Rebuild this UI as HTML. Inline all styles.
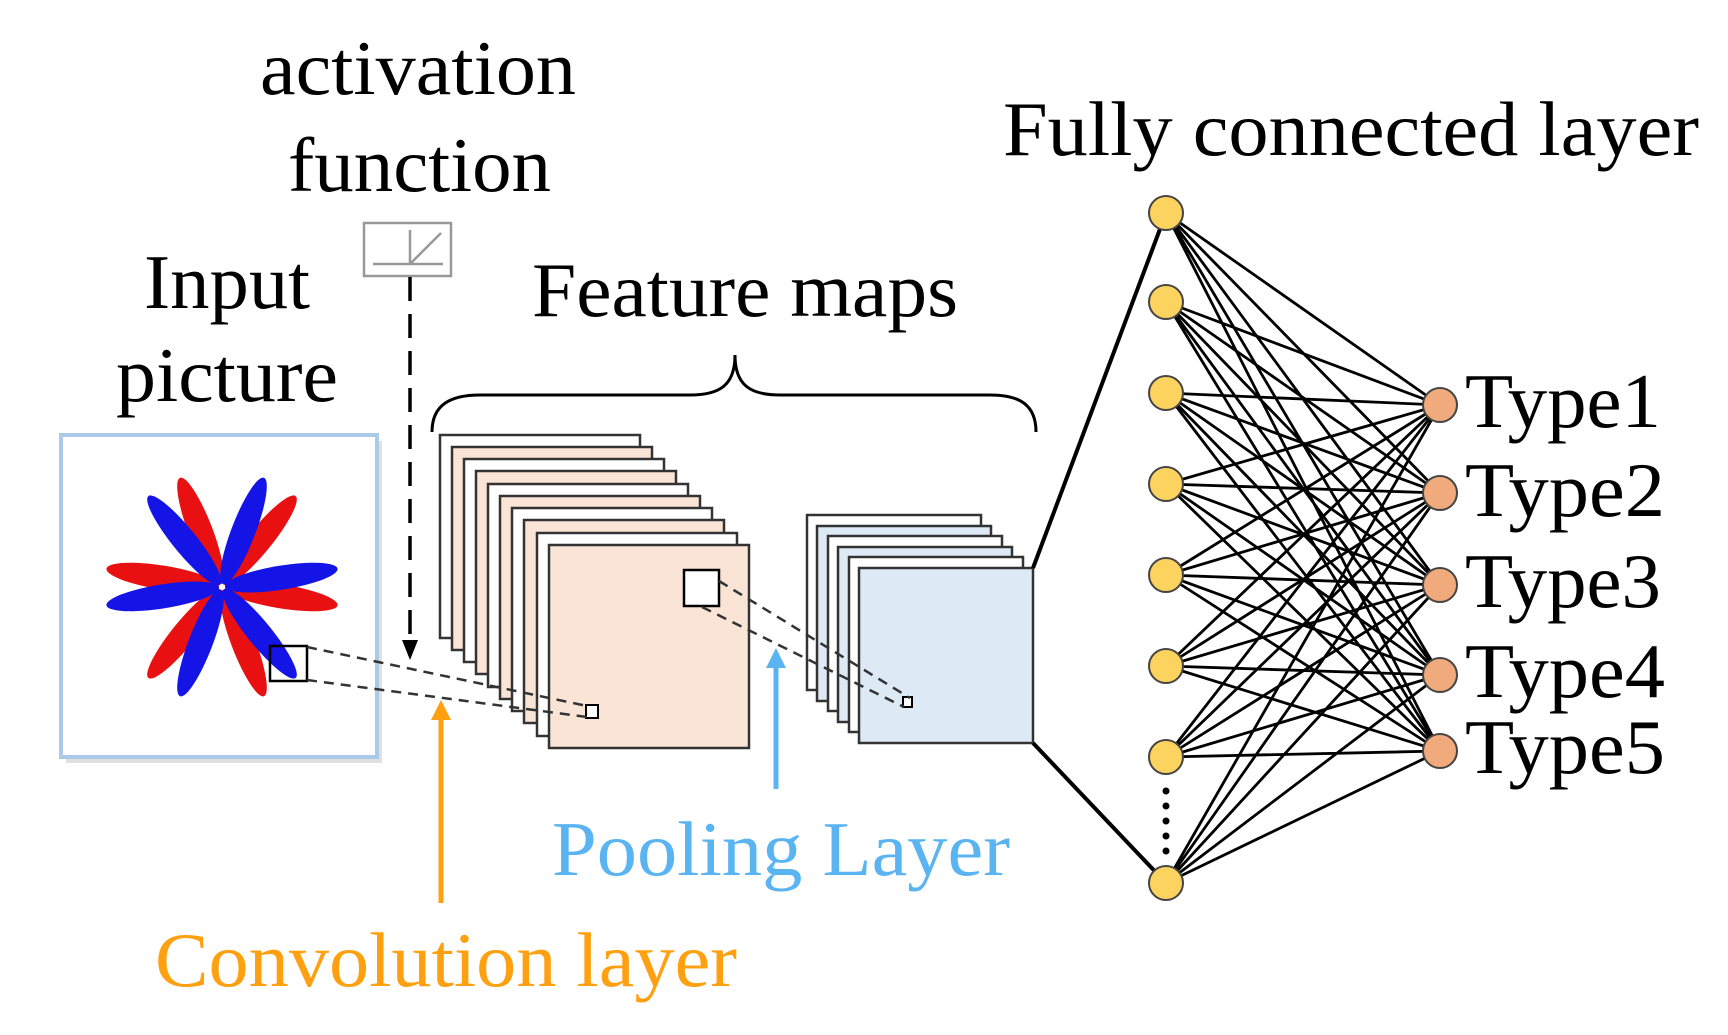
<!DOCTYPE html>
<html><head><meta charset="utf-8"><style>html,body{margin:0;padding:0;background:#fff}svg{display:block}</style></head>
<body>
<svg width="1728" height="1035" viewBox="0 0 1728 1035" xmlns="http://www.w3.org/2000/svg" font-family="'Liberation Serif', serif">
<rect width="1728" height="1035" fill="#fff"/>
<g font-size="77" fill="#000">
<text x="260" y="94" textLength="316" lengthAdjust="spacingAndGlyphs">activation</text>
<text x="288" y="191" textLength="263" lengthAdjust="spacingAndGlyphs">function</text>
<text x="144" y="308" textLength="166" lengthAdjust="spacingAndGlyphs">Input</text>
<text x="116" y="401" textLength="222" lengthAdjust="spacingAndGlyphs">picture</text>
<text x="532" y="316" textLength="426" lengthAdjust="spacingAndGlyphs">Feature maps</text>
<text x="1003" y="155" textLength="696" lengthAdjust="spacingAndGlyphs">Fully connected layer</text>
<text x="1465" y="427" textLength="196" lengthAdjust="spacingAndGlyphs">Type1</text>
<text x="1465" y="516" textLength="200" lengthAdjust="spacingAndGlyphs">Type2</text>
<text x="1465" y="607" textLength="196" lengthAdjust="spacingAndGlyphs">Type3</text>
<text x="1465" y="697" textLength="200" lengthAdjust="spacingAndGlyphs">Type4</text>
<text x="1465" y="773" textLength="200" lengthAdjust="spacingAndGlyphs">Type5</text>
</g>
<text x="552" y="875" font-size="77" fill="#5ab4f2" textLength="458" lengthAdjust="spacingAndGlyphs">Pooling Layer</text>
<text x="155" y="986" font-size="77" fill="#ffa010" textLength="582" lengthAdjust="spacingAndGlyphs">Convolution layer</text>

<rect x="364" y="223" width="87" height="53" fill="#fff" stroke="#999" stroke-width="2.5"/>
<line x1="373" y1="264" x2="443" y2="264" stroke="#999" stroke-width="2.5"/>
<line x1="410" y1="230" x2="410" y2="264" stroke="#999" stroke-width="2.5"/>
<line x1="410" y1="264" x2="441" y2="233" stroke="#999" stroke-width="2.5"/>
<line x1="410" y1="277" x2="410" y2="640" stroke="#000" stroke-width="3.5" stroke-dasharray="24,13"/>
<polygon points="402,640 418,640 410,660" fill="#000"/>

<path d="M432,432 C432,405 450,395 480,395 L690,395 C720,395 735,385 735,355 C735,385 750,395 780,395 L990,395 C1020,395 1036,405 1036,432" fill="none" stroke="#000" stroke-width="3"/>

<rect x="66" y="441" width="316" height="322" fill="#ccc" opacity="0.6"/>
<rect x="61" y="435" width="316" height="322" fill="#fff" stroke="#aacbe8" stroke-width="4"/>
<g transform="translate(222,587)">
<g fill="#e81010">
<ellipse cx="60" cy="0" rx="57" ry="12" transform="rotate(9)"/>
<ellipse cx="60" cy="0" rx="57" ry="12" transform="rotate(69)"/>
<ellipse cx="60" cy="0" rx="57" ry="12" transform="rotate(129)"/>
<ellipse cx="60" cy="0" rx="57" ry="12" transform="rotate(189)"/>
<ellipse cx="60" cy="0" rx="57" ry="12" transform="rotate(249)"/>
<ellipse cx="60" cy="0" rx="57" ry="12" transform="rotate(309)"/>
</g>
<g fill="#1414e6">
<ellipse cx="60" cy="0" rx="57" ry="12" transform="rotate(-9)"/>
<ellipse cx="60" cy="0" rx="57" ry="12" transform="rotate(51)"/>
<ellipse cx="60" cy="0" rx="57" ry="12" transform="rotate(111)"/>
<ellipse cx="60" cy="0" rx="57" ry="12" transform="rotate(171)"/>
<ellipse cx="60" cy="0" rx="57" ry="12" transform="rotate(231)"/>
<ellipse cx="60" cy="0" rx="57" ry="12" transform="rotate(291)"/>
</g>
</g>
<rect x="270" y="646" width="37" height="35" fill="none" stroke="#000" stroke-width="2.5"/>

<g stroke="#333" stroke-width="2.5">
<rect x="440" y="435" width="200" height="203" fill="#fff"/>
<rect x="452" y="447" width="200" height="203" fill="#fae4d6"/>
<rect x="464" y="459" width="200" height="203" fill="#fff"/>
<rect x="476" y="471" width="200" height="203" fill="#fae4d6"/>
<rect x="488" y="484" width="200" height="203" fill="#fff"/>
<rect x="500" y="496" width="200" height="203" fill="#fae4d6"/>
<rect x="512" y="508" width="200" height="203" fill="#fff"/>
<rect x="524" y="520" width="200" height="203" fill="#fae4d6"/>
<rect x="537" y="533" width="200" height="203" fill="#fff"/>
<rect x="549" y="545" width="200" height="203" fill="#fae4d6"/>
</g>
<rect x="684" y="570" width="35" height="36" fill="#fff" stroke="#000" stroke-width="2.5"/>
<rect x="586" y="705" width="12" height="13" fill="#fff" stroke="#000" stroke-width="2"/>
<g stroke="#333" stroke-width="2.5">
<rect x="807" y="515" width="174" height="175" fill="#fff"/>
<rect x="817" y="526" width="174" height="175" fill="#dde9f5"/>
<rect x="828" y="536" width="174" height="175" fill="#fff"/>
<rect x="838" y="547" width="174" height="175" fill="#dde9f5"/>
<rect x="849" y="557" width="174" height="175" fill="#fff"/>
<rect x="859" y="568" width="174" height="175" fill="#dde9f5"/>
</g>
<rect x="903" y="697" width="9" height="10" fill="#fff" stroke="#000" stroke-width="2"/>

<g stroke="#333" stroke-width="2.5" stroke-dasharray="10,7" fill="none">
<line x1="307" y1="647" x2="587" y2="706"/>
<line x1="307" y1="680" x2="587" y2="717"/>
<line x1="719" y1="581" x2="910" y2="698"/>
<line x1="702" y1="607" x2="904" y2="707"/>
</g>

<line x1="441" y1="903" x2="441" y2="718" stroke="#ffa010" stroke-width="5"/>
<polygon points="431,720 451,720 441,700" fill="#ffa010"/>
<line x1="776" y1="789" x2="776" y2="666" stroke="#5ab4f2" stroke-width="5"/>
<polygon points="766,668 786,668 776,648" fill="#5ab4f2"/>

<line x1="1033" y1="568" x2="1166" y2="213" stroke="#000" stroke-width="4"/>
<line x1="1033" y1="743" x2="1166" y2="883" stroke="#000" stroke-width="4"/>

<g stroke="#000" stroke-width="2.8">
<path d="M1166 213L1440 405M1166 213L1440 493M1166 213L1440 585M1166 213L1440 675M1166 213L1440 751
M1166 302L1440 405M1166 302L1440 493M1166 302L1440 585M1166 302L1440 675M1166 302L1440 751
M1166 393L1440 405M1166 393L1440 493M1166 393L1440 585M1166 393L1440 675M1166 393L1440 751
M1166 484L1440 405M1166 484L1440 493M1166 484L1440 585M1166 484L1440 675M1166 484L1440 751
M1166 575L1440 405M1166 575L1440 493M1166 575L1440 585M1166 575L1440 675M1166 575L1440 751
M1166 666L1440 405M1166 666L1440 493M1166 666L1440 585M1166 666L1440 675M1166 666L1440 751
M1166 757L1440 405M1166 757L1440 493M1166 757L1440 585M1166 757L1440 675M1166 757L1440 751
M1166 883L1440 405M1166 883L1440 493M1166 883L1440 585M1166 883L1440 675M1166 883L1440 751"/>
</g>
<g fill="#fcd35e" stroke="#444" stroke-width="2">
<ellipse cx="1166" cy="213" rx="17" ry="17"/>
<ellipse cx="1166" cy="302" rx="17" ry="17"/>
<ellipse cx="1166" cy="393" rx="17" ry="17"/>
<ellipse cx="1166" cy="484" rx="17" ry="17"/>
<ellipse cx="1166" cy="575" rx="17" ry="17"/>
<ellipse cx="1166" cy="666" rx="17" ry="17"/>
<ellipse cx="1166" cy="757" rx="17" ry="17"/>
<ellipse cx="1166" cy="883" rx="17" ry="17"/>
</g>
<g fill="#000">
<circle cx="1166" cy="791" r="3.5"/>
<circle cx="1166" cy="806" r="3.5"/>
<circle cx="1166" cy="821" r="3.5"/>
<circle cx="1166" cy="836" r="3.5"/>
<circle cx="1166" cy="851" r="3.5"/>
</g>
<g fill="#f0aa7c" stroke="#444" stroke-width="2">
<ellipse cx="1440" cy="405" rx="17" ry="17"/>
<ellipse cx="1440" cy="493" rx="17" ry="17"/>
<ellipse cx="1440" cy="585" rx="17" ry="17"/>
<ellipse cx="1440" cy="675" rx="17" ry="17"/>
<ellipse cx="1440" cy="751" rx="17" ry="17"/>
</g>
</svg>
</body></html>
